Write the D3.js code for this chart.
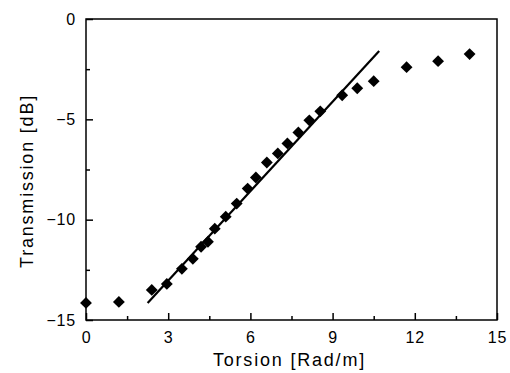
<!DOCTYPE html>
<html>
<head>
<meta charset="utf-8">
<script src="https://cdn.jsdelivr.net/npm/d3@7"></script>
<style>
  body { margin: 0; background: #fff; }
  text { font-family: "Liberation Sans", Arial, sans-serif; fill: #000; }
</style>
</head>
<body>
<svg id="svg" width="510" height="373"></svg>
<script>
// measured points (torsion, transmission)
const torsion = [0, 1.2, 2.4, 2.95, 3.5, 3.9, 4.2, 4.45, 4.7, 5.1, 5.5, 5.9, 6.2, 6.6, 7.0, 7.35, 7.75, 8.15, 8.55, 9.35, 9.9, 10.5, 11.7, 12.85, 14.0];
const trans = [-14.15, -14.1, -13.5, -13.2, -12.45, -11.95, -11.35, -11.1, -10.45, -9.85, -9.2, -8.45, -7.9, -7.15, -6.7, -6.2, -5.65, -5.05, -4.6, -3.8, -3.45, -3.1, -2.4, -2.1, -1.75];
// linear fit endpoints
const fitX = [2.25, 10.7];
const fitY = [-14.15, -1.6];

const xTicks = [0, 3, 6, 9, 12, 15];
const yTicks = [0, -5, -10, -15];

var svg = d3.select("#svg"),
    margin = {top: 19, right: 13, bottom: 53, left: 86},
    width = 510 - margin.left - margin.right,
    height = 373 - margin.top - margin.bottom;

var x = d3.scaleLinear().domain([0, 15]).range([0, width]);
var y = d3.scaleLinear().domain([-15, 0]).range([height, 0]);

var g = svg.append("g")
    .attr("transform", "translate(" + margin.left + "," + margin.top + ")");

// frame
g.append("rect")
    .attr("width", width).attr("height", height)
    .attr("fill", "none").attr("stroke", "#000").attr("stroke-width", 1.5);

// inward ticks, major + minor
var xAxis = d3.axisBottom(x).tickValues(xTicks).tickSize(-7).tickPadding(12).tickFormat(d3.format("d"));
var xMinor = d3.axisBottom(x).tickValues(d3.range(1.5, 15, 3)).tickSize(-4).tickFormat("");
var yAxis = d3.axisLeft(y).tickValues(yTicks).tickSize(-7).tickPadding(10).tickFormat(d3.format("d"));
var yMinor = d3.axisLeft(y).tickValues(d3.range(-12.5, 0, 5)).tickSize(-4).tickFormat("");

function style(sel) {
    sel.select(".domain").remove();
    sel.selectAll("line").attr("stroke", "#000").attr("stroke-width", 1.5);
    sel.selectAll("text").style("font-size", "16px").style("letter-spacing", "0.8px")
        .style("font-family", "'Liberation Sans', Arial, sans-serif");
}

g.append("g").attr("transform", "translate(0," + height + ")").call(xAxis).call(style);
g.append("g").attr("transform", "translate(0," + height + ")").call(xMinor).call(style);
g.append("g").call(yAxis).call(style);
g.append("g").call(yMinor).call(style);

// fit line
g.append("path")
    .datum(d3.zip(fitX, fitY))
    .attr("fill", "none").attr("stroke", "#000").attr("stroke-width", 2.2)
    .attr("d", d3.line().x(d => x(d[0])).y(d => y(d[1])));

// diamonds
var sym = d3.symbol().type(d3.symbolSquare).size(70);
g.selectAll(".pt")
    .data(d3.zip(torsion, trans))
    .enter().append("path")
    .attr("class", "pt")
    .attr("d", sym)
    .attr("fill", "#000")
    .attr("transform", d => "translate(" + x(d[0]) + "," + y(d[1]) + ") rotate(45)");

// axis titles
svg.append("text")
    .attr("x", margin.left + width / 2 - 2)
    .attr("y", 366)
    .style("text-anchor", "middle")
    .style("font-size", "18px")
    .style("letter-spacing", "1.8px")
    .text("Torsion [Rad/m]");

svg.append("text")
    .attr("transform", "translate(33," + 181 + ") rotate(-90)")
    .style("text-anchor", "middle")
    .style("font-size", "18px")
    .style("letter-spacing", "1.8px")
    .text("Transmission [dB]");
</script>
</body>
</html>
